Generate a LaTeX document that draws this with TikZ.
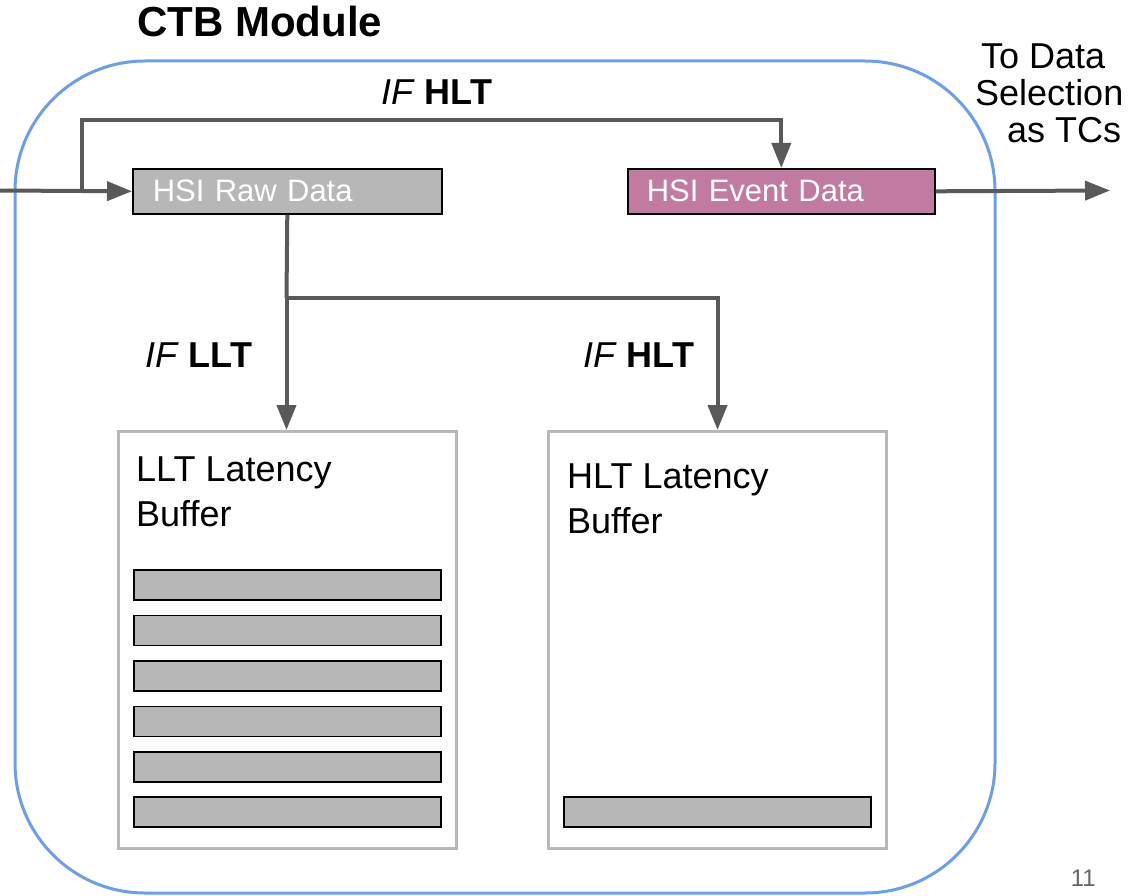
\documentclass[tikz,border=0pt]{standalone}
\usepackage{fontspec}
\setmainfont{Liberation Sans}
\usetikzlibrary{arrows.meta}
\definecolor{arrgray}{HTML}{595959}
\definecolor{boxgray}{HTML}{B7B7B7}
\definecolor{evmag}{HTML}{C27BA0}
\definecolor{modblue}{HTML}{6D9EEB}
\definecolor{pgnum}{HTML}{666666}
\begin{document}
\begin{tikzpicture}[x=1pt,y=-1pt,
  conn/.style={draw=arrgray, line width=4pt},
  arr/.style={conn, -{Triangle[length=25pt,width=19pt]}},
  databox/.style={draw=black, line width=1.6pt, minimum height=45pt, text width=269pt,
    inner xsep=20pt, inner ysep=0pt, align=left, anchor=north west, text=white,
    font=\fontsize{31}{37}\selectfont},
  bufbox/.style={draw=boxgray, line width=3pt, minimum width=338pt, minimum height=417pt,
    anchor=north west, inner sep=0pt},
  buftext/.style={anchor=north west, inner sep=0pt, align=left, font=\fontsize{36}{45}\selectfont},
  stripe/.style={draw=black, fill=boxgray, line width=1.5pt, minimum width=307pt,
    minimum height=30pt, anchor=north west, inner sep=0pt},
  lbl/.style={anchor=base west, inner sep=0pt, font=\fontsize{36}{43}\selectfont}]
\useasboundingbox (0,0) rectangle (1132,896);

% module outline
\draw[draw=modblue, line width=3pt, rounded corners=130pt] (15,61) rectangle (995,893);

% title
\node[anchor=base west, inner sep=0pt, font=\fontsize{42}{50}\selectfont\bfseries] (title) at (137,37) {CTB Module};

% data boxes
\node[databox, fill=boxgray] (raw) at (132,168) {HSI Raw Data};
\node[databox, fill=evmag, inner xsep=19pt] (event) at (627,168) {HSI Event Data};

% buffers
\node[bufbox] (llt) at (117,430) {};
\node[bufbox] (hlt) at (547,430) {};
\node[buftext] (lltlabel) at (136,457) {LLT Latency\\Buffer};
\node[buftext] (hltlabel) at (567,464) {HLT Latency\\Buffer};
\foreach \i/\y in {1/569,2/614.5,3/660,4/705.5,5/751,6/796}
  \node[stripe] (s\i) at (133,\y) {};
\node[stripe] (h1) at (563,796) {};

% labels
\node[lbl] (ifhlttop) at (381,105) {\textit{IF} \textbf{HLT}};
\node[lbl] (ifllt) at (145,367) {\textit{IF} \textbf{LLT}};
\node[lbl] (ifhlt) at (583,367) {\textit{IF} \textbf{HLT}};
\node[anchor=north west, inner sep=0pt, align=left, font=\fontsize{36}{37}\selectfont] (todata) at (975,44)
  {\hspace*{6pt}To Data\\Selection\\\hspace*{32pt}as TCs};
\node[anchor=base east, inner sep=0pt, text=pgnum, font=\fontsize{24}{28}\selectfont] (pg) at (1096,886) {11};

% connectors
\coordinate (in) at (0,190.5);
\coordinate (br) at (82,190.5);
\coordinate (brtop) at (82,120);
\coordinate (out) at (1110,190.5);
\coordinate (j) at (286.5,298);
\draw[arr] (in) -- (raw.west);
\draw[arr] (br) -- (brtop) -| (event.north);
\draw[arr] (event.east) -- (out);
\draw[conn] (raw.south) -- (j);
\draw[arr] (j) -- (j |- llt.north);
\draw[arr] (j) -| (hlt.north);
\end{tikzpicture}
\end{document}
